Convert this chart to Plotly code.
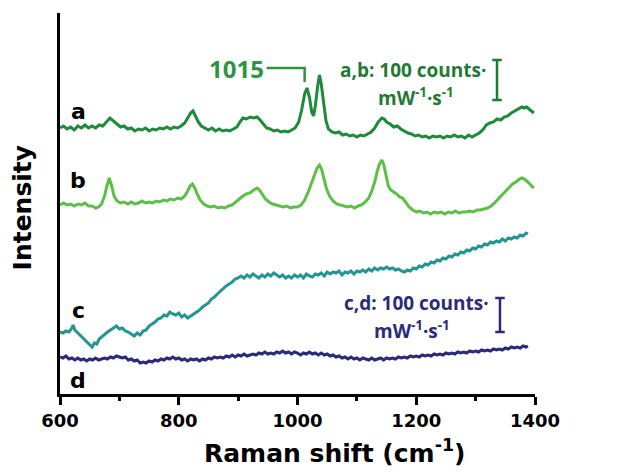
import plotly.graph_objects as go

# ---------------- data (Raman shift in cm^-1, offset intensity in arbitrary units) -------------
a_x = [600, 606, 612, 618, 624, 630, 636, 642, 648, 654, 660, 666, 672, 678, 684, 690, 696, 702, 708, 714,
       720, 726, 732, 738, 744, 750, 756, 762, 768, 774, 780, 786, 792, 798, 804, 810, 815, 820, 824, 828,
       833, 838, 844, 850, 856, 862, 868, 874, 880, 886, 892, 898, 903, 908, 914, 920, 926, 932, 937, 942,
       948, 954, 960, 966, 972, 978, 984, 990, 996, 1002, 1007, 1012, 1016, 1020, 1024, 1027, 1030, 1034, 1037, 1040,
       1044, 1048, 1052, 1058, 1064, 1070, 1076, 1082, 1088, 1094, 1100, 1106, 1112, 1118, 1124, 1130, 1136, 1142, 1146, 1150,
       1156, 1162, 1168, 1174, 1180, 1186, 1192, 1198, 1204, 1210, 1216, 1222, 1228, 1234, 1240, 1246, 1252, 1258, 1264, 1270,
       1276, 1282, 1288, 1294, 1300, 1306, 1312, 1318, 1324, 1330, 1336, 1342, 1348, 1354, 1360, 1366, 1372, 1378, 1382, 1386,
       1390, 1394, 1398]
a_y = [266, 268, 265, 267, 264, 268, 266, 269, 266, 268, 266, 269, 268, 272, 276, 273, 270, 267, 268, 265,
       266, 263, 265, 264, 266, 263, 265, 264, 266, 265, 267, 265, 267, 266, 268, 271, 276, 281, 283, 278,
       272, 268, 266, 264, 266, 263, 265, 263, 264, 263, 265, 267, 272, 276, 275, 277, 276, 277, 274, 270,
       266, 265, 263, 264, 262, 263, 262, 264, 266, 272, 284, 300, 306, 297, 282, 278, 288, 308, 319, 310,
       290, 273, 265, 262, 261, 262, 259, 260, 258, 259, 257, 259, 258, 260, 262, 266, 272, 276, 275, 272,
       270, 267, 268, 265, 263, 261, 260, 258, 259, 257, 258, 256, 258, 257, 258, 256, 258, 257, 259, 257,
       258, 256, 259, 257, 259, 261, 264, 269, 271, 272, 275, 274, 277, 278, 281, 283, 285, 287, 286, 287,
       285, 283, 281]

b_x = [600, 606, 612, 618, 624, 630, 636, 642, 648, 654, 660, 665, 670, 675, 679, 683, 687, 691, 696, 702,
       708, 714, 720, 726, 732, 738, 744, 750, 756, 762, 768, 774, 780, 786, 792, 798, 804, 810, 815, 819,
       823, 827, 831, 836, 842, 848, 854, 860, 866, 872, 878, 884, 890, 896, 902, 908, 914, 920, 926, 932,
       936, 940, 946, 952, 958, 964, 970, 976, 982, 988, 994, 1000, 1006, 1012, 1018, 1024, 1029, 1033, 1037, 1041,
       1045, 1049, 1054, 1060, 1066, 1072, 1078, 1084, 1090, 1096, 1102, 1108, 1114, 1120, 1125, 1130, 1134, 1138, 1142, 1145,
       1149, 1153, 1157, 1162, 1167, 1172, 1177, 1182, 1188, 1194, 1200, 1206, 1212, 1218, 1224, 1230, 1236, 1242, 1248, 1254,
       1260, 1266, 1272, 1278, 1284, 1290, 1296, 1302, 1308, 1314, 1320, 1326, 1332, 1338, 1344, 1350, 1356, 1362, 1368, 1374,
       1378, 1382, 1386, 1390, 1394, 1398]
b_y = [189, 191, 189, 190, 188, 190, 189, 191, 188, 188, 186, 187, 190, 198, 208, 216, 208, 198, 193, 191,
       192, 190, 192, 190, 191, 193, 191, 192, 191, 193, 192, 194, 193, 195, 194, 196, 195, 198, 203, 208,
       210, 206, 200, 194, 190, 188, 187, 188, 186, 187, 186, 188, 189, 192, 195, 198, 200, 201, 204, 206,
       204, 200, 195, 192, 190, 189, 188, 187, 188, 186, 187, 187, 189, 194, 202, 212, 220, 226, 229, 224,
       214, 205, 198, 193, 190, 189, 188, 187, 188, 186, 188, 189, 192, 196, 203, 212, 222, 230, 234, 230,
       219, 208, 204, 202, 200, 197, 196, 192, 187, 184, 182, 183, 181, 182, 180, 182, 181, 182, 180, 182,
       181, 183, 181, 182, 182, 183, 182, 184, 184, 185, 186, 188, 191, 195, 199, 203, 207, 210, 212, 215,
       216, 215, 213, 211, 208, 206]

c_x = [600, 605, 610, 615, 619, 622, 625, 630, 635, 640, 645, 650, 654, 658, 662, 666, 670, 675, 680, 685,
       690, 695, 700, 705, 710, 715, 720, 725, 730, 735, 740, 745, 750, 755, 760, 765, 770, 775, 780, 785,
       790, 795, 800, 805, 810, 815, 820, 825, 830, 835, 840, 845, 850, 855, 860, 865, 870, 875, 880, 885,
       890, 895, 900, 905, 910, 915, 920, 925, 930, 935, 940, 945, 950, 955, 960, 965, 970, 975, 980, 985,
       990, 995, 1000, 1005, 1010, 1015, 1020, 1025, 1030, 1035, 1040, 1045, 1050, 1055, 1060, 1065, 1070, 1075, 1080, 1085,
       1090, 1095, 1100, 1105, 1110, 1115, 1120, 1125, 1130, 1135, 1140, 1145, 1150, 1155, 1160, 1165, 1170, 1175, 1180, 1185,
       1190, 1195, 1200, 1205, 1210, 1215, 1220, 1225, 1230, 1235, 1240, 1245, 1250, 1255, 1260, 1265, 1270, 1275, 1280, 1285,
       1290, 1295, 1300, 1305, 1310, 1315, 1320, 1325, 1330, 1335, 1340, 1345, 1350, 1355, 1360, 1365, 1370, 1375, 1380, 1385,
       1388]
c_y = [62, 61, 63, 62, 65, 69, 64, 61, 59, 56, 53, 50, 47, 51, 50, 55, 57, 60, 62, 64,
       66, 68, 65, 66, 63, 62, 60, 58, 61, 59, 63, 64, 68, 70, 72, 75, 76, 79, 78, 82,
       80, 79, 81, 77, 79, 76, 78, 80, 82, 84, 87, 89, 91, 95, 97, 100, 103, 105, 108, 110,
       112, 115, 116, 118, 116, 119, 117, 120, 118, 116, 119, 117, 120, 118, 121, 119, 117, 119, 116, 118,
       116, 119, 117, 119, 116, 120, 118, 117, 120, 119, 121, 118, 122, 120, 122, 121, 123, 119, 122, 121,
       123, 120, 123, 122, 124, 122, 125, 123, 126, 124, 126, 125, 127, 125, 126, 124, 125, 123, 122, 124,
       123, 126, 125, 128, 127, 130, 129, 132, 131, 134, 133, 136, 135, 138, 137, 140, 139, 142, 141, 144,
       143, 146, 145, 148, 147, 150, 149, 152, 151, 153, 152, 155, 153, 156, 155, 157, 156, 159, 158, 161,
       160]

d_x = [600, 605, 610, 615, 620, 625, 630, 635, 640, 645, 650, 655, 660, 665, 670, 675, 680, 685, 690, 695,
       700, 705, 710, 715, 720, 725, 730, 735, 740, 745, 750, 755, 760, 765, 770, 775, 780, 785, 790, 795,
       800, 805, 810, 815, 820, 825, 830, 835, 840, 845, 850, 855, 860, 865, 870, 875, 880, 885, 890, 895,
       900, 905, 910, 915, 920, 925, 930, 935, 940, 945, 950, 955, 960, 965, 970, 975, 980, 985, 990, 995,
       1000, 1005, 1010, 1015, 1020, 1025, 1030, 1035, 1040, 1045, 1050, 1055, 1060, 1065, 1070, 1075, 1080, 1085, 1090, 1095,
       1100, 1105, 1110, 1115, 1120, 1125, 1130, 1135, 1140, 1145, 1150, 1155, 1160, 1165, 1170, 1175, 1180, 1185, 1190, 1195,
       1200, 1205, 1210, 1215, 1220, 1225, 1230, 1235, 1240, 1245, 1250, 1255, 1260, 1265, 1270, 1275, 1280, 1285, 1290, 1295,
       1300, 1305, 1310, 1315, 1320, 1325, 1330, 1335, 1340, 1345, 1350, 1355, 1360, 1365, 1370, 1375, 1380, 1385, 1388]
d_y = [37, 36, 38, 35, 36, 34, 36, 34, 35, 33, 35, 34, 36, 34, 35, 36, 35, 37, 36, 38,
       37, 36, 37, 34, 35, 33, 34, 31, 32, 31, 33, 32, 34, 33, 35, 34, 36, 35, 37, 35,
       36, 34, 35, 33, 35, 34, 35, 33, 35, 34, 36, 35, 37, 36, 37, 36, 38, 37, 39, 37,
       39, 38, 40, 38, 39, 40, 39, 41, 40, 42, 40, 41, 40, 42, 41, 43, 41, 42, 40, 42,
       41, 39, 41, 40, 42, 40, 41, 39, 41, 39, 40, 38, 39, 37, 38, 36, 37, 35, 37, 35,
       36, 34, 36, 35, 34, 36, 34, 35, 36, 34, 36, 35, 36, 35, 37, 36, 37, 36, 38, 37,
       38, 37, 39, 38, 39, 38, 40, 39, 40, 39, 41, 40, 41, 40, 42, 41, 42, 41, 43, 42,
       43, 42, 44, 43, 44, 43, 45, 44, 45, 44, 46, 45, 47, 46, 47, 46, 48, 47, 48]

x_ticks = [600, 800, 1000, 1200, 1400]
trace_letters = ["a", "b", "c", "d"]
trace_names = ["pyridine", "air", "pyridine", "air"]
colors = ["#1f8a3c", "#5cbf48", "#25968f", "#2c2a7a"]
label_colors = ["#1c7a35", "#5cbf48", "#25968f", "#2c2a7a"]

series = [(a_x, a_y), (b_x, b_y), (c_x, c_y), (d_x, d_y)]

fig = go.Figure()
for (sx, sy), col, nm in zip(series, colors, trace_names):
    fig.add_trace(go.Scatter(x=sx, y=sy, mode="lines", name=nm,
                             line=dict(color=col, width=3), showlegend=False, hoverinfo="skip"))

ann = []
# letters a-d
letter_pos = [(631, 283), (631, 214), (631, 84), (631, 14)]
for t, (px, py) in zip(trace_letters, letter_pos):
    ann.append(dict(x=px, y=py, xref="x", yref="y", text=t, showarrow=False,
                    font=dict(family="DejaVu Sans", size=22, color="black", weight="bold")))
# right-side names
name_y = [286, 206, 152, 46]
for nm, py, col in zip(trace_names, name_y, label_colors):
    ann.append(dict(x=1422, y=py, xref="x", yref="y", text=nm, showarrow=False, xanchor="left",
                    font=dict(family="Open Sans", size=22, color=col, weight="bold")))
# 1015 label
ann.append(dict(x=898, y=326, xref="x", yref="y", text="1015", showarrow=False,
                font=dict(family="Open Sans", size=24, color="#2e9444", weight="bold")))
# scale text
ann.append(dict(x=1194, y=324, xref="x", yref="y", text="a,b: 100 counts·", showarrow=False,
                font=dict(family="Open Sans", size=19, color="#1f7a35", weight="bold")))
ann.append(dict(x=1199, y=297, xref="x", yref="y", text="mW<sup>-1</sup>·s<sup>-1</sup>", showarrow=False,
                font=dict(family="Open Sans", size=19, color="#1f7a35", weight="bold")))
ann.append(dict(x=1201, y=91, xref="x", yref="y", text="c,d: 100 counts·", showarrow=False,
                font=dict(family="Open Sans", size=19, color="#2c2a7a", weight="bold")))
ann.append(dict(x=1193, y=64, xref="x", yref="y", text="mW<sup>-1</sup>·s<sup>-1</sup>", showarrow=False,
                font=dict(family="Open Sans", size=19, color="#2c2a7a", weight="bold")))
# axis titles
ann.append(dict(x=0.5785, y=-0.15, xref="paper", yref="paper", text="Raman shift (cm<sup>-1</sup>)",
                showarrow=False, yanchor="middle",
                font=dict(family="DejaVu Sans", size=25, color="black", weight="bold")))
ann.append(dict(x=-0.079, y=0.491, xref="paper", yref="paper", text="Intensity", textangle=-90,
                showarrow=False, xanchor="center", yanchor="middle",
                font=dict(family="DejaVu Sans", size=25, color="black", weight="bold")))

shapes = []
# 1015 bracket
shapes.append(dict(type="path", xref="x", yref="y", path="M 948 326 L 1012 326 L 1012 312",
                   line=dict(color="#2e9444", width=2.5)))
# scale bars
for bx, y0, y1, col in [(1336, 294, 334, "#1f7a35"), (1341, 62, 96, "#2c2a7a")]:
    shapes.append(dict(type="line", xref="x", yref="y", x0=bx, x1=bx, y0=y0, y1=y1, line=dict(color=col, width=2.5)))
    for yy in (y0, y1):
        shapes.append(dict(type="line", xref="x", yref="y", x0=bx - 8, x1=bx + 8, y0=yy, y1=yy,
                           line=dict(color=col, width=2.5)))

# page body has an 8px margin, so the figure is sized to the visible window area
fig.update_layout(
    width=634, height=467,
    margin=dict(l=52, r=107, t=5, b=81),
    paper_bgcolor="white", plot_bgcolor="white",
    annotations=ann, shapes=shapes,
    xaxis=dict(range=[600, 1400], tickvals=x_ticks, ticks="outside", ticklen=8, tickwidth=2.5,
               tickcolor="black", showline=True, linecolor="black", linewidth=3, showgrid=False,
               zeroline=False, tickfont=dict(family="DejaVu Sans", size=18, color="black", weight="bold"),
               minor=dict(dtick=100, ticks="outside", ticklen=4, tickwidth=2.5, tickcolor="black", showgrid=False)),
    yaxis=dict(range=[0, 381], showline=True, linecolor="black", linewidth=3, showticklabels=False,
               ticks="", showgrid=False, zeroline=False),
)

fig.write_html("out.html")
